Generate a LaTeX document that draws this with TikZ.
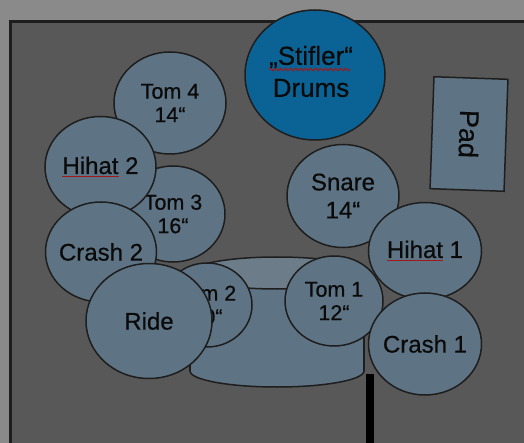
\documentclass[tikz,border=0pt]{standalone}
\usepackage{fontspec}
\setmainfont{Liberation Sans}[FakeBold=0.6]
\usetikzlibrary{shapes.geometric,decorations.pathmorphing}
\definecolor{outerbg}{HTML}{8A8A8A}
\definecolor{innerbg}{HTML}{585858}
\definecolor{edgecol}{HTML}{1E1E1E}
\definecolor{drumfill}{HTML}{5E7484}
\definecolor{drumtop}{HTML}{6C7D89}
\definecolor{stiflerblue}{HTML}{0A6394}
\definecolor{spellred}{HTML}{A01818}
\definecolor{ink}{HTML}{0A0A0A}
\newcommand\spellul[1]{\setbox0\hbox{#1}\rlap{\color{spellred}\rule[-3.4pt]{\wd0}{1.6pt}}\box0\relax}
\begin{document}
\begin{tikzpicture}[x=1pt,y=-1pt,
  drum/.style={ellipse, draw=edgecol, line width=1.5pt, fill=drumfill, text=ink,
    align=center, inner sep=-25pt, font=\fontsize{24}{28}\selectfont},
  tomlbl/.style={font=\fontsize{21.5}{23.5}\selectfont},
  shell/.style={draw=edgecol, line width=1.5pt},
]
\useasboundingbox (0,0) rectangle (524,443);
\fill[outerbg] (0,0) rectangle (524,443);
\draw[edgecol, line width=3pt, fill=innerbg] (10.5,21.5) rectangle (560,470);

% bass drum
\draw[shell, fill=drumfill] (277,371) ellipse [x radius=87, y radius=16];
\fill[drumfill] (190,273) rectangle (364,371);
\draw[shell] (190,273) -- (190,371);
\draw[shell] (364,273) -- (364,371);
\draw[shell, fill=drumtop] (277,273) ellipse [x radius=87, y radius=16];

% drums and cymbals
\node[drum, tomlbl, minimum width=112pt, minimum height=102pt] (tom4) at (170,103) {Tom 4\\14“};
\node[drum, tomlbl, minimum width=104pt, minimum height=96pt] (tom3) at (173,214) {Tom 3\\16“};
\node[drum, minimum width=111pt, minimum height=101pt] (hihat2) at (100.5,167) {\spellul{Hihat} 2};
\node[drum, minimum width=111pt, minimum height=100pt] (crash2) at (101,252) {Crash 2};
\node[drum, tomlbl, minimum width=90pt, minimum height=84pt] (tom2) at (207,305) {Tom 2\\10“};
\node[drum, minimum width=126pt, minimum height=115pt] (ride) at (149,321) {Ride};
\node[drum, tomlbl, minimum width=98pt, minimum height=90pt] (tom1) at (334,301) {Tom 1\\12“};
\node[drum, minimum width=112pt, minimum height=103pt] (snare) at (343,196) {Snare\\14“};
\node[drum, minimum width=113pt, minimum height=97pt] (hihat1) at (425,251) {\spellul{Hihat} 1};
\node[drum, minimum width=113pt, minimum height=102pt] (crash1) at (425,344) {Crash 1};

% logo
\node[drum, fill=stiflerblue, minimum width=140pt, minimum height=130pt] (stifler) at (315,75) {};
\node[text=ink, align=center, inner sep=0pt, font=\fontsize{26}{32}\selectfont]
  (stiflertext) at (311,71.5) {„Stifler“\\Drums};
\draw[spellred, line width=1.1pt, decorate,
  decoration={snake, amplitude=1.2pt, segment length=5pt}] (269,69.5) -- (350,69.5);

% pad
\node[draw=edgecol, line width=1.5pt, fill=drumfill, text=ink, rotate=-92,
  minimum width=112pt, minimum height=74pt, inner sep=0pt,
  font=\fontsize{27}{32}\selectfont] (pad) at (469,134) {Pad};

% stand
\fill[black] (366,374) rectangle (374,443);
\end{tikzpicture}
\end{document}
